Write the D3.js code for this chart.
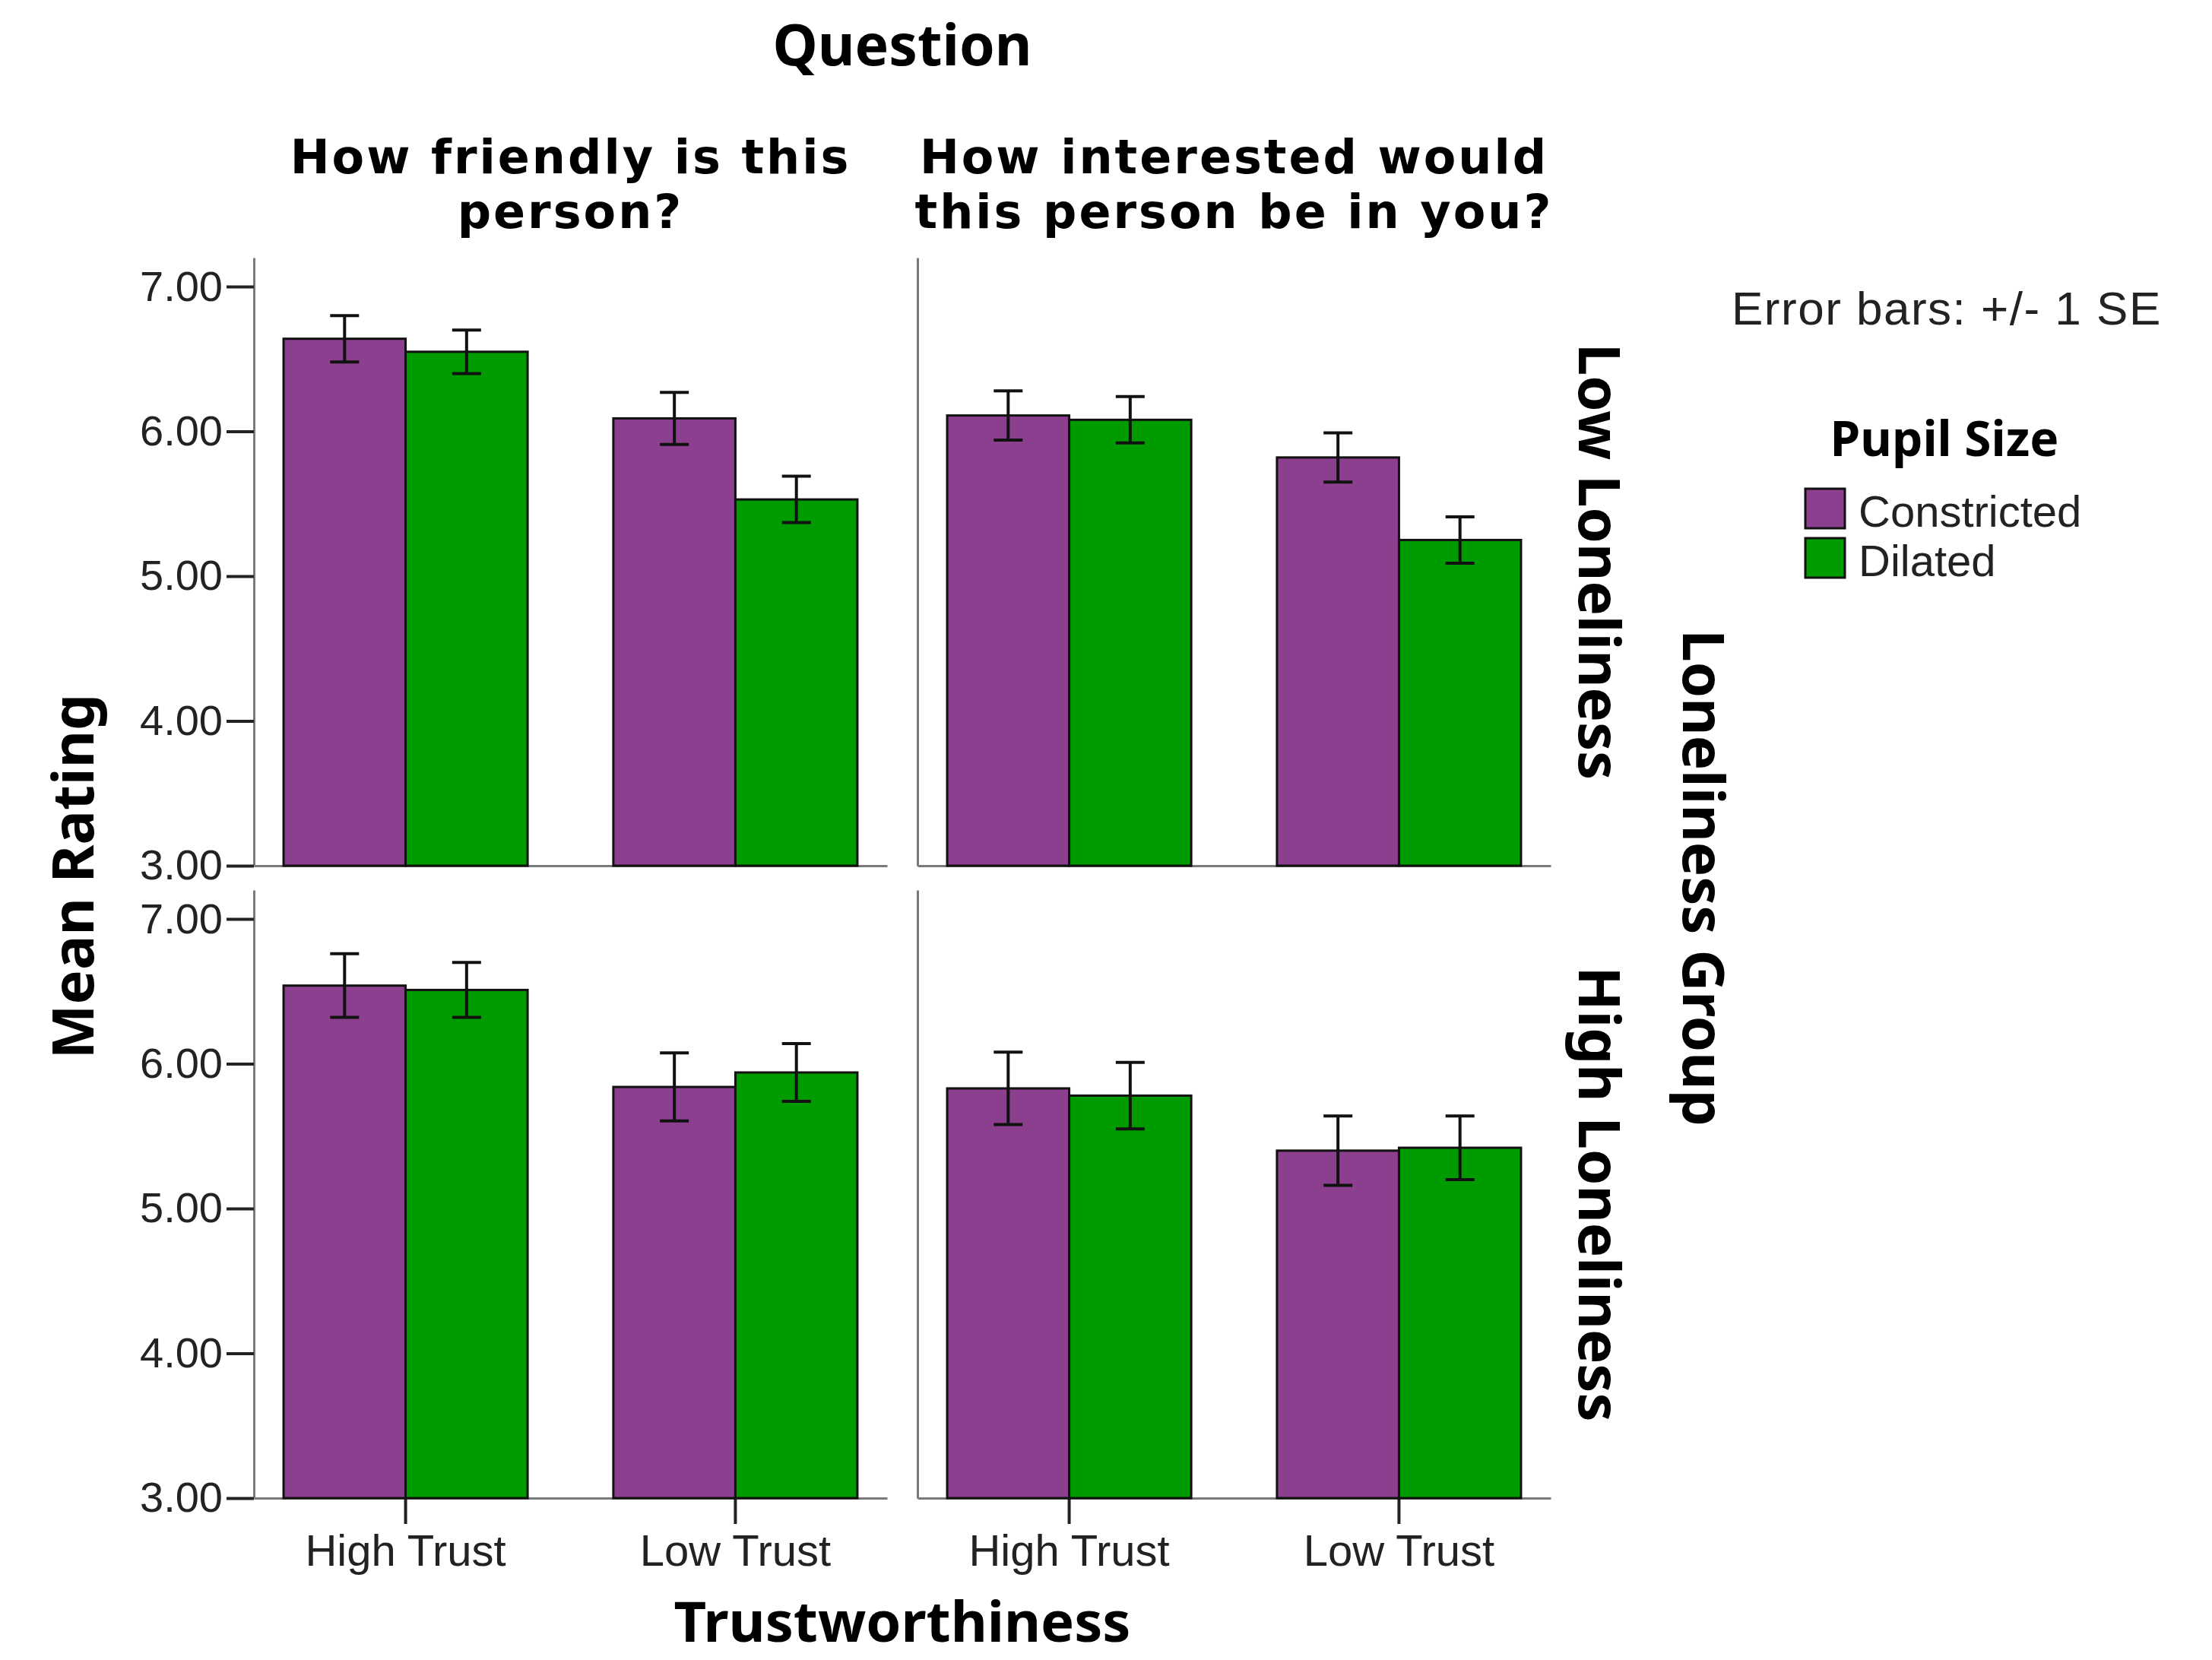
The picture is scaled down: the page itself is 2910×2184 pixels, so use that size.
<!DOCTYPE html>
<html>
<head>
<meta charset="utf-8">
<script src="https://cdn.jsdelivr.net/npm/d3@7"></script>
<style>
  html, body { margin: 0; padding: 0; background: #fff; }
  .axis .domain { stroke: #7a7a7a; stroke-width: 3; }
  .axis .tick line { stroke: #222; stroke-width: 4; }
  .axis .tick text { font-family: "Liberation Sans", Arial, sans-serif; fill: #222; }
  .title { font-family: "Noto Sans", sans-serif; font-weight: bold; fill: #000; }
  .header { font-family: "DejaVu Sans", sans-serif; font-weight: bold; fill: #000; }
</style>
</head>
<body>
<script>
// facets and categories
const questionLabels = [["How friendly is this", "person?"], ["How interested would", "this person be in you?"]];
const lonelinessGroups = ["Low Loneliness", "High Loneliness"];
const trustLevels = ["High Trust", "Low Trust"];
const pupilSizes = ["Constricted", "Dilated"];
const yTicks = [3, 4, 5, 6, 7];

// means, ordered High Trust (Constricted, Dilated), Low Trust (Constricted, Dilated)
const friendlyLowMean = [6.64, 6.55, 6.09, 5.53];
const interestedLowMean = [6.11, 6.08, 5.82, 5.25];
const friendlyHighMean = [6.54, 6.51, 5.84, 5.94];
const interestedHighMean = [5.83, 5.78, 5.40, 5.42];

// standard errors, same order
const friendlyLowSE = [0.16, 0.15, 0.18, 0.16];
const interestedLowSE = [0.17, 0.16, 0.17, 0.16];
const friendlyHighSE = [0.22, 0.19, 0.235, 0.20];
const interestedHighSE = [0.25, 0.23, 0.24, 0.22];

const pupilColors = ["#8c3f8f", "#009b00"];

const cellMeans = [[friendlyLowMean, interestedLowMean], [friendlyHighMean, interestedHighMean]];
const cellSE = [[friendlyLowSE, interestedLowSE], [friendlyHighSE, interestedHighSE]];

const width = 2910, height = 2184;
const svg = d3.select("body").append("svg").attr("width", width).attr("height", height);

const colX = [334, 1207];
const rowY = [339, 1171];
const panelW = 833, panelH = 800;

const x0 = d3.scaleBand().domain(trustLevels).range([0, panelW]).paddingInner(0.26).paddingOuter(0.09);
const x1 = d3.scaleBand().domain(pupilSizes).range([0, x0.bandwidth()]);
const y = d3.scaleLinear().domain([3, 7.2]).range([panelH, 0]);
const color = d3.scaleOrdinal().domain(pupilSizes).range(pupilColors);

lonelinessGroups.forEach((grp, r) => {
  questionLabels.forEach((q, c) => {
    const g = svg.append("g").attr("transform", `translate(${colX[c]},${rowY[r]})`);

    // y axis
    const yAxis = c === 0
      ? d3.axisLeft(y).tickValues(yTicks).tickFormat(d3.format(".2f")).tickSize(36).tickSizeOuter(0).tickPadding(5)
      : d3.axisLeft(y).tickValues([]).tickSizeOuter(0);
    const ya = g.append("g").attr("class", "axis").call(yAxis);
    ya.selectAll(".tick text").attr("font-size", 56);

    // x axis
    const xAxis = r === 1
      ? d3.axisBottom(x0).tickSize(34).tickSizeOuter(0).tickPadding(14)
      : d3.axisBottom(x0).tickValues([]).tickSizeOuter(0);
    const xa = g.append("g").attr("class", "axis").attr("transform", `translate(0,${panelH})`).call(xAxis);
    xa.selectAll(".tick text").attr("font-size", 58);

    const rows = [];
    trustLevels.forEach((t, i) => pupilSizes.forEach((p, j) => {
      const k = i * 2 + j;
      rows.push({ trust: t, pupil: p, mean: cellMeans[r][c][k], se: cellSE[r][c][k] });
    }));

    g.append("g").selectAll("rect")
      .data(rows)
      .join("rect")
      .attr("x", d => x0(d.trust) + x1(d.pupil))
      .attr("y", d => y(d.mean))
      .attr("width", x1.bandwidth())
      .attr("height", d => y(3) - y(d.mean))
      .attr("fill", d => color(d.pupil))
      .attr("stroke", "#111")
      .attr("stroke-width", 3);

    const eb = g.append("g").attr("stroke", "#111").attr("stroke-width", 4);
    const cap = 19;
    rows.forEach(d => {
      const cx = x0(d.trust) + x1(d.pupil) + x1.bandwidth() / 2;
      eb.append("line").attr("x1", cx).attr("x2", cx).attr("y1", y(d.mean + d.se)).attr("y2", y(d.mean - d.se));
      eb.append("line").attr("x1", cx - cap).attr("x2", cx + cap).attr("y1", y(d.mean + d.se)).attr("y2", y(d.mean + d.se));
      eb.append("line").attr("x1", cx - cap).attr("x2", cx + cap).attr("y1", y(d.mean - d.se)).attr("y2", y(d.mean - d.se));
    });
  });
});

// column headers
svg.append("text").attr("class", "title").attr("x", (colX[0] + colX[1] + panelW) / 2).attr("y", 86)
  .attr("text-anchor", "middle").attr("font-size", 75).text("Question");
questionLabels.forEach((lines, c) => {
  lines.forEach((ln, i) => {
    svg.append("text").attr("class", "header").attr("text-anchor", "middle")
      .attr("font-size", 62).attr("letter-spacing", 3)
      .attr("x", colX[c] + panelW / 2).attr("y", 228 + i * 72).text(ln);
  });
});

// axis titles
svg.append("text").attr("class", "title").attr("font-size", 76).attr("text-anchor", "middle")
  .attr("transform", "translate(123,1153) rotate(-90)").text("Mean Rating");
svg.append("text").attr("class", "title").attr("font-size", 74).attr("text-anchor", "middle")
  .attr("x", (colX[0] + colX[1] + panelW) / 2).attr("y", 2160).text("Trustworthiness");

// row strip labels
lonelinessGroups.forEach((grp, r) => {
  svg.append("text").attr("class", "title").attr("font-size", 76).attr("text-anchor", "middle")
    .attr("transform", `translate(2077,${rowY[r] + panelH / 2}) rotate(90)`).text(grp);
});
svg.append("text").attr("class", "title").attr("font-size", 76).attr("text-anchor", "middle")
  .attr("transform", `translate(2214,${(rowY[0] + rowY[1] + panelH) / 2}) rotate(90)`).text("Loneliness Group");

// error bar note and legend
svg.append("text").attr("x", 2278).attr("y", 427)
  .attr("font-family", "Liberation Sans, Arial, sans-serif").attr("font-size", 62).attr("fill", "#222")
  .attr("letter-spacing", 1.5).text("Error bars: +/- 1 SE");

svg.append("text").attr("class", "title").attr("x", 2558).attr("y", 600)
  .attr("text-anchor", "middle").attr("font-size", 64).text("Pupil Size");

const legend = svg.append("g").attr("transform", "translate(2375,643)");
pupilSizes.forEach((p, i) => {
  legend.append("rect").attr("x", 0).attr("y", i * 65).attr("width", 52).attr("height", 52)
    .attr("fill", color(p)).attr("stroke", "#111").attr("stroke-width", 3);
  legend.append("text").attr("x", 70).attr("y", i * 65 + 50)
    .attr("font-family", "Liberation Sans, Arial, sans-serif").attr("font-size", 58).attr("fill", "#222")
    .text(p);
});
</script>
</body>
</html>
